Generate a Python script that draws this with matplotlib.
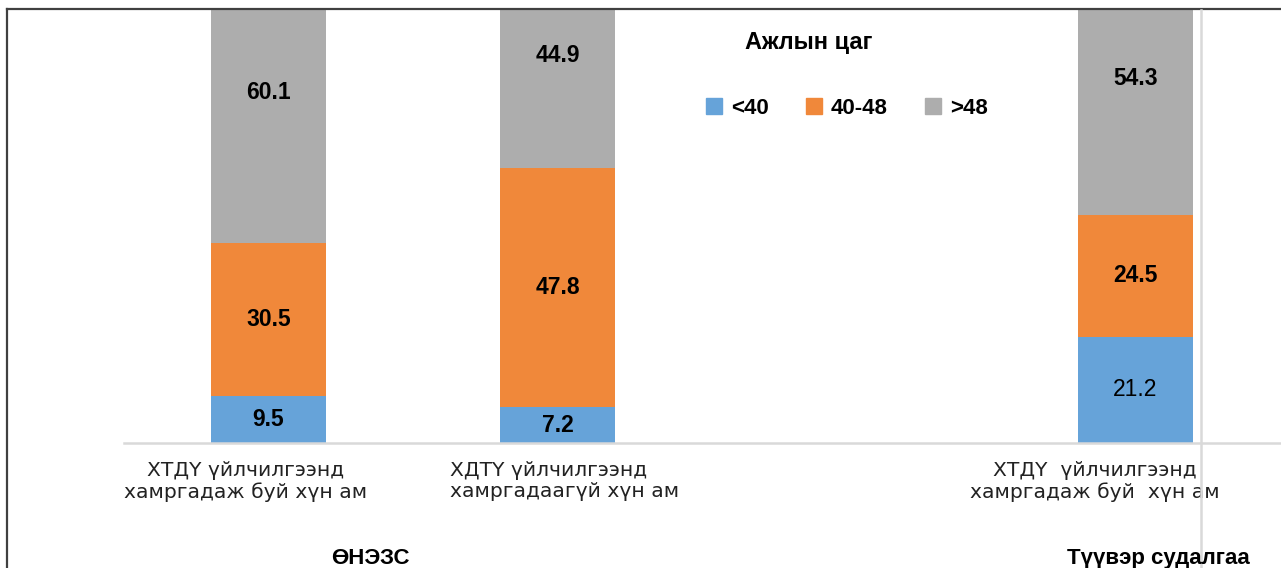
import numpy as np
import matplotlib.pyplot as plt
from matplotlib.lines import Line2D
from matplotlib.patches import Patch

W, H = 1281, 568

categories = ['ХТДҮ үйлчилгээнд\nхамргадаж буй хүн ам',
              'ХДТҮ үйлчилгээнд\nхамргадаагүй хүн ам',
              '',
              'ХТДҮ  үйлчилгээнд\nхамргадаж буй  хүн ам']
groups = ['ӨНЭЗС', 'Түүвэр судалгаа']
series = ['<40', '40-48', '>48']
lt40 = [9.5, 7.2, np.nan, 21.2]
h40_48 = [30.5, 47.8, np.nan, 24.5]
gt48 = [60.1, 44.9, np.nan, 54.3]
legend_title = 'Ажлын цаг'

colors = ['#66A3D9', '#F0883A', '#ADADAD']

fig = plt.figure(figsize=(W / 100, H / 100), dpi=100)
ax = fig.add_axes([124 / W, 1 - 443 / H, (1280 - 124) / W, (443 - 9) / H])

x = np.arange(len(categories))
data = np.array([lt40, h40_48, gt48])
mask = ~np.isnan(data[0])
bottom = np.zeros(len(categories))
for s, vals in enumerate(data):
    ax.bar(x[mask], vals[mask], width=0.4, bottom=bottom[mask],
           color=colors[s], label=series[s])
    for i in x[mask]:
        weight = 'normal' if (s == 0 and i == 3) else 'bold'
        ax.text(i, bottom[i] + vals[i] / 2, f'{vals[i]:.1f}', ha='center',
                va='center', fontsize=16.5, fontweight=weight,
                family='Liberation Sans', color='black')
    bottom[mask] += vals[mask]

ax.set_xlim(-0.5, 3.5)
ax.set_ylim(0, 86.8)
ax.axis('off')
ax.axhline(0, color='#D9D9D9', lw=1.8, clip_on=False)

# category labels (positions as in the original layout)
lab_x = [-0.081, 0.628, None, 2.86]
lab_ha = ['center', 'left', None, 'center']
for i, txt in enumerate(categories):
    if not txt:
        continue
    ax.text(lab_x[i], -3.5, txt, ha=lab_ha[i], va='top', fontsize=14.6,
            family='DejaVu Sans', color='#222222', linespacing=1.15,
            transform=ax.transData)

fig.text(370 / W, 1 - 564 / H, groups[0], ha='center', va='baseline',
         fontsize=16, fontweight='bold', family='Liberation Sans')
fig.text(1158 / W, 1 - 564 / H, groups[1], ha='center', va='baseline',
         fontsize=16, fontweight='bold', family='Liberation Sans')

fig.text(809 / W, 1 - 43 / H, legend_title, ha='center', va='center',
         fontsize=17, fontweight='bold', family='Liberation Sans')
handles = [Patch(color=c) for c in colors]
leg = fig.legend(handles, series, loc='center', ncol=3,
                 bbox_to_anchor=(847 / W, 1 - 108 / H), frameon=False,
                 handlelength=0.7, handleheight=0.7, handletextpad=0.4,
                 columnspacing=1.7,
                 prop={'family': 'Liberation Sans', 'weight': 'bold', 'size': 16})

# frame and separator
fig.add_artist(Line2D([7 / W, 1], [1 - 9 / H, 1 - 9 / H], color='#404040', lw=1.6))
fig.add_artist(Line2D([7 / W, 7 / W], [0, 1 - 9 / H], color='#404040', lw=1.6))
fig.add_artist(Line2D([1201 / W, 1201 / W], [0, 1 - 10 / H], color='#D9D9D9', lw=1.8))

fig.savefig('out.png', dpi=100)
